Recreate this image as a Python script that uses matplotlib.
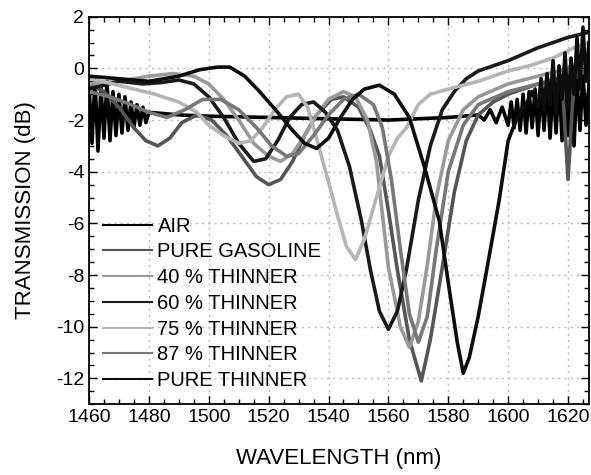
import matplotlib
matplotlib.use("Agg")
import matplotlib.pyplot as plt
from matplotlib.ticker import MultipleLocator

plt.rcParams['font.family'] = ['Liberation Sans', 'DejaVu Sans']
plt.rcParams['axes.unicode_minus'] = False

labels = ['AIR', 'PURE GASOLINE', '40 % THINNER', '60 % THINNER',
          '75 % THINNER', '87 % THINNER', 'PURE THINNER']
colors = ['#000000', '#555555', '#999999', '#1a1a1a', '#b5b5b5', '#777777', '#0d0d0d']

# wavelength (nm) / transmission (dB) (noisy edges read as envelope swings)
air_wl = [1460, 1461, 1462, 1463, 1464, 1465, 1466, 1467, 1468, 1469, 1470, 1471, 1472, 1473,
          1474, 1475, 1476, 1477, 1478, 1479, 1480, 1490, 1500, 1520, 1540, 1560, 1580, 1590,
          1592, 1594, 1596, 1598, 1600, 1601, 1602, 1603, 1604, 1605, 1606, 1607, 1608, 1609,
          1610, 1611, 1612, 1613, 1614, 1615, 1616, 1617, 1618, 1619, 1620, 1621, 1622, 1623,
          1624, 1625, 1626, 1627]
air_db = [-0.6, -2.9, -0.4, -3.2, -0.7, -2.7, -0.5, -2.8, -0.9, -2.6, -1.0, -2.5, -1.1, -2.4,
          -1.3, -2.3, -1.4, -2.2, -1.5, -2.1, -1.7, -1.8, -1.85, -1.9, -1.95, -2.0, -1.9, -1.8,
          -2.0, -1.6, -2.1, -1.5, -2.2, -1.3, -2.3, -1.2, -2.4, -1.0, -2.5, -0.9, -2.3, -0.8,
          -2.6, -0.7, -2.4, -0.5, -2.7, -0.6, -2.5, -0.4, -2.8, -0.5, -2.6, -0.3, -3.0, -0.4,
          -2.4, -0.2, -2.2, -0.6]

gas_wl = [1460, 1465, 1470, 1475, 1479, 1483, 1487, 1491, 1496, 1501, 1506, 1511, 1516, 1520,
          1524, 1528, 1532, 1536, 1541, 1545, 1550, 1554, 1557, 1560, 1563, 1567, 1571, 1574,
          1578, 1582, 1586, 1590, 1595, 1600, 1610, 1618, 1620, 1622, 1627]
gas_db = [-0.6, -0.9, -1.5, -2.3, -2.8, -3.0, -2.7, -2.1, -1.8, -2.0, -2.6, -3.4, -4.2, -4.5,
          -4.3, -3.6, -2.6, -1.8, -1.2, -1.1, -1.5, -2.4, -3.4, -5.5, -7.8, -10.5, -12.1, -10.5,
          -7.7, -4.8, -2.8, -1.8, -1.3, -1.0, -0.6, -0.4, -4.3, -0.4, 0.0]

p40_wl = [1460, 1470, 1480, 1488, 1495, 1500, 1505, 1510, 1515, 1520, 1524, 1528, 1532, 1536,
          1540, 1545, 1549, 1553, 1556, 1560, 1564, 1567, 1570, 1573, 1576, 1580, 1585, 1590,
          1600, 1610, 1620, 1627]
p40_db = [-0.6, -0.5, -0.3, -0.2, -0.3, -0.6, -1.2, -2.0, -2.9, -3.4, -3.6, -3.3, -2.6, -1.8,
          -1.2, -0.9, -1.1, -2.0, -3.6, -7.7, -10.0, -10.8, -9.8, -7.6, -5.0, -2.8, -1.6, -1.1,
          -0.6, -0.3, 0.0, 0.3]

p60_wl = [1460, 1470, 1478, 1484, 1490, 1495, 1500, 1505, 1510, 1515, 1519, 1523, 1527, 1531,
          1535, 1539, 1543, 1547, 1551, 1554, 1557, 1560, 1563, 1566, 1570, 1574, 1578, 1582,
          1586, 1590, 1600, 1610, 1620, 1627]
p60_db = [-0.8, -0.5, -0.6, -0.55, -0.45, -0.6, -1.1, -1.9, -2.9, -3.6, -3.5, -2.8, -1.9, -1.4,
          -1.3, -1.7, -2.4, -3.8, -5.9, -7.8, -9.4, -10.1, -9.4, -7.8, -5.1, -3.0, -1.6, -0.9,
          -0.4, -0.1, 0.3, 0.8, 1.2, 1.4]

p75_wl = [1460, 1468, 1475, 1482, 1490, 1496, 1500, 1505, 1510, 1514, 1518, 1522, 1526, 1530,
          1533, 1536, 1540, 1543, 1546, 1549, 1552, 1556, 1560, 1563, 1566, 1570, 1574, 1580,
          1590, 1600, 1607, 1615, 1622, 1627]
p75_db = [-0.4, -0.6, -0.8, -1.0, -1.3, -1.7, -2.2, -2.6, -2.9, -2.8, -2.3, -1.6, -1.1, -1.0,
          -1.5, -2.7, -4.4, -5.7, -6.9, -7.4, -6.6, -5.0, -3.4, -2.7, -2.3, -1.4, -1.0, -0.8,
          -0.5, -0.1, 0.1, 0.4, 0.8, 1.0]

p87_wl = [1460, 1467, 1474, 1480, 1486, 1492, 1498, 1504, 1510, 1516, 1521, 1526, 1530, 1535,
          1540, 1545, 1550, 1555, 1558, 1561, 1564, 1567, 1570, 1573, 1576, 1580, 1585, 1590,
          1600, 1610, 1620, 1627]
p87_db = [-0.9, -1.1, -1.4, -1.7, -1.9, -1.6, -1.2, -1.2, -1.6, -2.3, -3.0, -3.4, -3.3, -2.6,
          -1.8, -1.2, -1.0, -1.4, -2.3, -4.3, -7.0, -9.5, -10.6, -9.6, -7.0, -4.0, -2.2, -1.4,
          -0.9, -0.6, -0.3, -0.1]

pth_wl = [1460, 1470, 1480, 1490, 1497, 1503, 1507, 1512, 1517, 1523, 1528, 1532, 1536, 1540,
          1544, 1548, 1552, 1557, 1562, 1567, 1572, 1577, 1580, 1583, 1585, 1587, 1590, 1593,
          1597, 1600, 1603, 1606, 1608, 1610, 1611, 1612, 1613, 1614, 1615, 1616, 1617, 1618,
          1619, 1620, 1621, 1622, 1623, 1624, 1625, 1626, 1627]
pth_db = [-0.3, -0.4, -0.5, -0.3, -0.05, 0.05, 0.05, -0.3, -0.9, -1.7, -2.4, -2.9, -3.1, -2.7,
          -1.9, -1.2, -0.8, -0.65, -1.0, -1.9, -3.8, -5.9, -8.3, -10.6, -11.8, -11.2, -9.6, -7.7,
          -5.1, -2.8, -1.9, -1.4, -0.9, -1.5, -0.4, -1.6, -0.2, -1.4, 0.3, -1.7, 0.1, -1.2,
          0.6, -1.5, 0.4, -1.0, 1.2, -0.8, 1.6, -0.5, 1.0]

curves = [(air_wl, air_db), (gas_wl, gas_db), (p40_wl, p40_db), (p60_wl, p60_db),
          (p75_wl, p75_db), (p87_wl, p87_db), (pth_wl, pth_db)]

fig = plt.figure(figsize=(5.91, 4.75), dpi=100)
ax = fig.add_axes([0.1506, 0.1490, 0.8460, 0.8158])

for (wl, db), lab, col in zip(curves, labels, colors):
    ax.plot(wl, db, color=col, lw=2.6, label=lab)

ax.set_xlim(1460, 1627)
ax.set_ylim(-13, 2)
ax.xaxis.set_major_locator(MultipleLocator(20))
ax.xaxis.set_minor_locator(MultipleLocator(5))
ax.yaxis.set_major_locator(MultipleLocator(2))
ax.yaxis.set_minor_locator(MultipleLocator(0.5))
ax.tick_params(which='both', direction='in', top=True, right=True, labelsize=14)
ax.tick_params(which='major', length=6, width=1)
ax.tick_params(which='minor', length=3.5, width=1)
ax.grid(True, which='major', color='#bbbbbb', linestyle=(0, (1.5, 3)), lw=1)
for s in ax.spines.values():
    s.set_linewidth(1.3)

ax.set_xlabel('WAVELENGTH (nm)', fontsize=16, labelpad=16)
ax.set_ylabel('TRANSMISSION (dB)', fontsize=16, labelpad=14)

leg = ax.legend(loc='lower left', frameon=False, fontsize=14.5, handlelength=2.45,
                handletextpad=0.25, labelspacing=0.335, borderaxespad=0.3,
                bbox_to_anchor=(0.0, 0.0))
for h in leg.get_lines():
    h.set_linewidth(1.5)

fig.savefig('out.png', dpi=100)
